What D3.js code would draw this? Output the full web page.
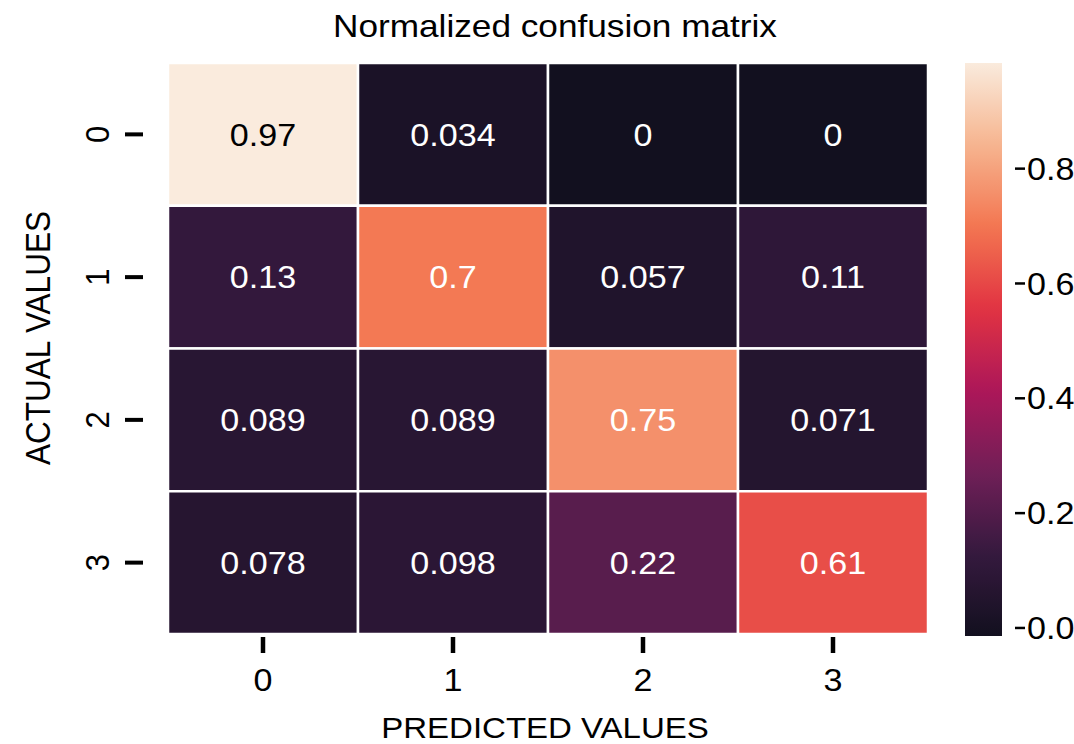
<!DOCTYPE html>
<html>
<head>
<meta charset="utf-8">
<script src="https://cdn.jsdelivr.net/npm/d3@7"></script>
<style>
  html, body { margin: 0; padding: 0; background: #fff; }
  svg { display: block; font-family: "Liberation Sans", Arial, sans-serif; }
</style>
</head>
<body>
<svg id="chart" width="1074" height="744"></svg>
<script>
// Confusion matrix (rows = actual class, columns = predicted class), row-normalized
const actualClasses = ["0", "1", "2", "3"];
const predictedClasses = ["0", "1", "2", "3"];
const row0 = [0.97, 0.034, 0, 0];
const row1 = [0.13, 0.7, 0.057, 0.11];
const row2 = [0.089, 0.089, 0.75, 0.071];
const row3 = [0.078, 0.098, 0.22, 0.61];
const matrixRows = [row0, row1, row2, row3];
const colorbarTicks = [0.0, 0.2, 0.4, 0.6, 0.8];
const colorbarRange = [-0.014, 0.984];

const titleText = "Normalized confusion matrix";
const xTitle = "PREDICTED VALUES";
const yTitle = "ACTUAL VALUES";

// Text is drawn slightly widened horizontally
const SX = 1.1;
const FS = 31;

const svg = d3.select("#chart");

const heat = { left: 168, right: 928, top: 63, bottom: 634 };
const cbar = { left: 965, right: 1002, top: 63, bottom: 636 };

const x = d3.scaleBand().domain(predictedClasses).range([heat.left, heat.right]);
const y = d3.scaleBand().domain(actualClasses).range([heat.top, heat.bottom]);

const vmax = d3.max(matrixRows.flat());
// "rocket"-style sequential ramp
const rocketStops = ["#12101f", "#35193e", "#701f57", "#ad1759", "#e13342", "#f37651", "#f6b48f", "#faebdd"];
const rocket = d3.scaleLinear()
  .domain(rocketStops.map((_, i) => i / (rocketStops.length - 1)))
  .range(rocketStops)
  .interpolate(d3.interpolateRgb);
const color = v => rocket(v / vmax);

const cells = [];
matrixRows.forEach((row, i) => row.forEach((v, j) => cells.push({ a: actualClasses[i], p: predictedClasses[j], v })));

// Cells
svg.append("g").selectAll("rect").data(cells).join("rect")
  .attr("x", d => x(d.p))
  .attr("y", d => y(d.a))
  .attr("width", x.bandwidth())
  .attr("height", y.bandwidth())
  .attr("fill", d => color(d.v))
  .attr("stroke", "#fff")
  .attr("stroke-width", 2.5);

// Cell annotations, dark text on light cells
const fmt = v => (v === 0 ? "0" : String(+v.toPrecision(2)));
function luminance(c) {
  const rgb = d3.rgb(c);
  const lin = u => { u /= 255; return u <= 0.03928 ? u / 12.92 : Math.pow((u + 0.055) / 1.055, 2.4); };
  return 0.2126 * lin(rgb.r) + 0.7152 * lin(rgb.g) + 0.0722 * lin(rgb.b);
}
svg.append("g").selectAll("text").data(cells).join("text")
  .attr("transform", d => `translate(${x(d.p) + x.bandwidth() / 2},${y(d.a) + y.bandwidth() / 2}) scale(${SX},1)`)
  .attr("text-anchor", "middle")
  .attr("dy", "0.36em")
  .attr("font-size", FS)
  .attr("fill", d => luminance(color(d.v)) > 0.408 ? "#000" : "#fff")
  .text(d => fmt(d.v));

// X axis ticks (offset below the grid) and labels
const xt = svg.append("g");
xt.selectAll("line").data(predictedClasses).join("line")
  .attr("x1", d => x(d) + x.bandwidth() / 2).attr("x2", d => x(d) + x.bandwidth() / 2)
  .attr("y1", 637).attr("y2", 653)
  .attr("stroke", "#000").attr("stroke-width", 4.5);
xt.selectAll("text").data(predictedClasses).join("text")
  .attr("transform", d => `translate(${x(d) + x.bandwidth() / 2},680) scale(${SX},1)`)
  .attr("text-anchor", "middle").attr("dy", "0.36em")
  .attr("font-size", FS).attr("fill", "#000")
  .text(d => d);

// Y axis ticks (offset left of the grid) and rotated labels
const yt = svg.append("g");
yt.selectAll("line").data(actualClasses).join("line")
  .attr("x1", 125).attr("x2", 143)
  .attr("y1", d => y(d) + y.bandwidth() / 2).attr("y2", d => y(d) + y.bandwidth() / 2)
  .attr("stroke", "#000").attr("stroke-width", 4);
yt.selectAll("text").data(actualClasses).join("text")
  .attr("transform", d => `translate(97,${y(d) + y.bandwidth() / 2}) scale(${SX},1) rotate(-90)`)
  .attr("text-anchor", "middle").attr("dy", "0.36em")
  .attr("font-size", FS).attr("fill", "#000")
  .text(d => d);

// Colorbar
const cy = d3.scaleLinear().domain(colorbarRange).range([cbar.bottom, cbar.top]);
const defs = svg.append("defs");
const grad = defs.append("linearGradient").attr("id", "cbarGrad")
  .attr("x1", 0).attr("y1", 1).attr("x2", 0).attr("y2", 0);
d3.range(0, 1.0001, 0.02).forEach(t => {
  grad.append("stop").attr("offset", t).attr("stop-color", rocket(t));
});
svg.append("rect")
  .attr("x", cbar.left).attr("y", cbar.top)
  .attr("width", cbar.right - cbar.left).attr("height", cbar.bottom - cbar.top)
  .attr("fill", "url(#cbarGrad)");
const ct = svg.append("g");
ct.selectAll("line").data(colorbarTicks).join("line")
  .attr("x1", 1015).attr("x2", 1025)
  .attr("y1", d => cy(d)).attr("y2", d => cy(d))
  .attr("stroke", "#000").attr("stroke-width", 2.5);
ct.selectAll("text").data(colorbarTicks).join("text")
  .attr("transform", d => `translate(1027,${cy(d)}) scale(${SX},1)`)
  .attr("text-anchor", "start").attr("dy", "0.36em")
  .attr("font-size", FS).attr("fill", "#000")
  .text(d => d3.format(".1f")(d));

// Titles
svg.append("text")
  .attr("transform", `translate(555,25) scale(${SX},1)`)
  .attr("text-anchor", "middle").attr("dy", "0.36em")
  .attr("font-size", 32).attr("fill", "#000")
  .text(titleText);
svg.append("text")
  .attr("transform", `translate(545,727) scale(${SX},1)`)
  .attr("text-anchor", "middle").attr("dy", "0.36em")
  .attr("font-size", 30).attr("fill", "#000")
  .text(xTitle);
svg.append("text")
  .attr("transform", `translate(38,338) scale(${SX},1) rotate(-90)`)
  .attr("text-anchor", "middle").attr("dy", "0.36em")
  .attr("font-size", 31.5).attr("fill", "#000")
  .text(yTitle);
</script>
</body>
</html>
